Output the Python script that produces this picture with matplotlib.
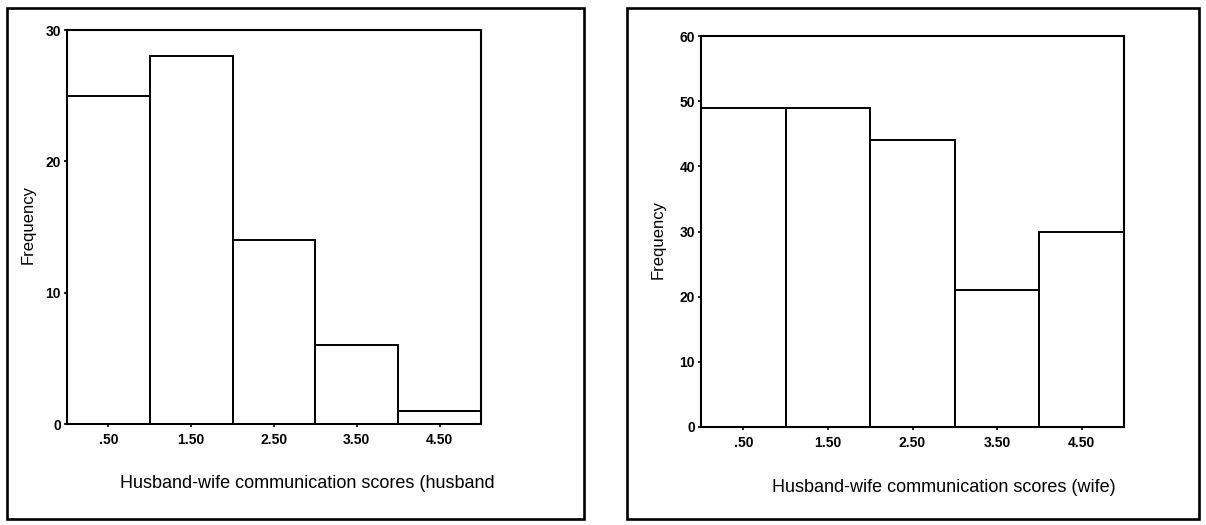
import matplotlib
matplotlib.use("Agg")
import matplotlib.pyplot as plt
from matplotlib.patches import Rectangle

plt.rcParams['font.family'] = ['Liberation Sans', 'DejaVu Sans']

bin_centers = [0.5, 1.5, 2.5, 3.5, 4.5]
tick_labels = [".50", "1.50", "2.50", "3.50", "4.50"]
husband_freq = [25, 28, 14, 6, 1]
wife_freq = [49, 49, 44, 21, 30]
husband_yticks = [0, 10, 20, 30]
wife_yticks = [0, 10, 20, 30, 40, 50, 60]
husband_xlabel = "Husband-wife communication scores (husband"
wife_xlabel = "Husband-wife communication scores (wife)"

W, H = 1206, 525
fig = plt.figure(figsize=(W / 100, H / 100), dpi=100)

def fx(px):
    return px / W

def fy(py):
    return 1 - py / H

# outer frames
for (x0, y0, x1, y1) in [(7, 8, 584, 519), (627, 8, 1199, 519)]:
    fig.patches.append(Rectangle((fx(x0), fy(y1)), fx(x1) - fx(x0), fy(y0) - fy(y1),
                                 transform=fig.transFigure, fill=False,
                                 edgecolor='black', linewidth=1.9))

def panel(box, values, yticks, xlabel, ylab_x, ylab_y, xlab_x, xlab_y):
    l, r, b, t = box
    ax = fig.add_axes([fx(l), fy(b), fx(r) - fx(l), fy(t) - fy(b)])
    ax.bar(bin_centers, values, width=1.0, facecolor='white', edgecolor='black', linewidth=1.4)
    ax.set_xlim(0, 5)
    ax.set_ylim(0, yticks[-1])
    ax.set_xticks(bin_centers)
    ax.set_xticklabels(tick_labels, fontsize=10, fontweight='bold')
    ax.set_yticks(yticks)
    ax.set_yticklabels([str(v) for v in yticks], fontsize=10, fontweight='bold')
    ax.tick_params(axis='x', length=2.5, width=1.2, pad=4)
    ax.tick_params(axis='y', length=2.5, width=1.2, pad=2)
    for s in ax.spines.values():
        s.set_linewidth(1.5)
    fig.text(fx(ylab_x), fy(ylab_y), "Frequency", rotation=90, ha='center', va='center', fontsize=12)
    fig.text(fx(xlab_x), fy(xlab_y), xlabel, ha='center', va='center', fontsize=13)
    return ax

panel((67, 481, 424, 30), husband_freq, husband_yticks, husband_xlabel, 28, 225, 307, 483)
panel((701, 1124, 427, 36), wife_freq, wife_yticks, wife_xlabel, 658, 240, 944, 487)

fig.savefig("out.png", dpi=100)
